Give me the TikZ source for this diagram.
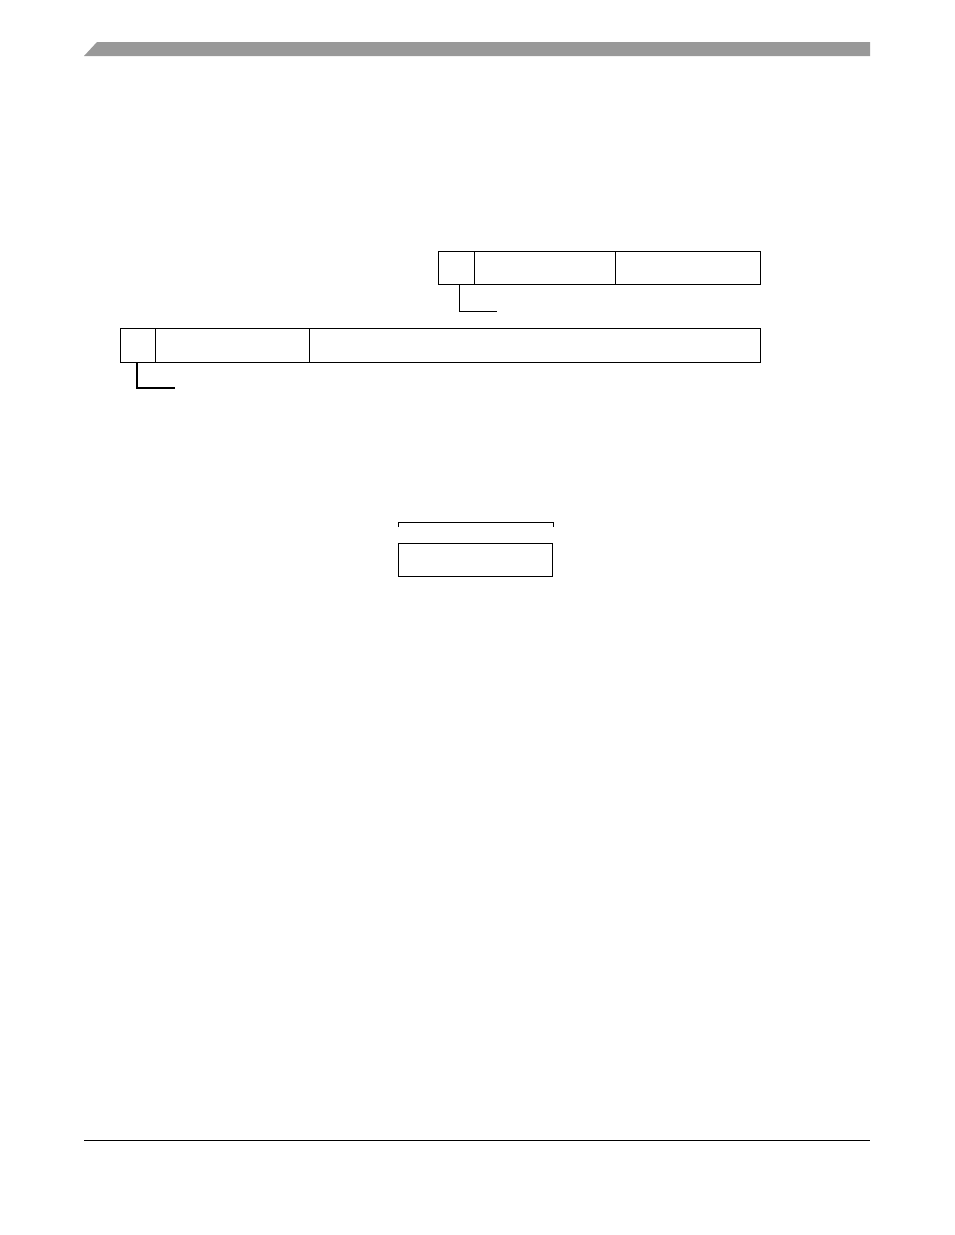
\documentclass[tikz,border=0pt]{standalone}
\usepackage{tikz}

\begin{document}
\begin{tikzpicture}[x=1pt, y=-1pt, cell/.style = {draw, line width=1.2pt, inner sep=0pt, minimum height=33pt, anchor=north west}, rule/.style = {line width=1pt}]
	\useasboundingbox (0,0) rectangle (954,1235);
	% page header and footer
	\fill[black!40] (84,56) -- (97,42) -- (870,42) -- (870,56) -- cycle;
	\draw[rule] (84,1140) -- (870,1140);
	% upper register
	\node[cell, minimum width=36pt] (a1) at (438,251) {};
	\node[cell, minimum width=141pt] (a2) at (474,251) {};
	\node[cell, minimum width=145pt] (a3) at (615,251) {};
	\coordinate (ka) at (497,311);
	\draw[rule] ([xshift=3pt]a1.south) |- (ka);
	% lower register
	\node[cell, minimum width=35pt, minimum height=34pt] (b1) at (120,328) {};
	\node[cell, minimum width=154pt, minimum height=34pt] (b2) at (155,328) {};
	\node[cell, minimum width=451pt, minimum height=34pt] (b3) at (309,328) {};
	\coordinate (kb) at (175,388);
	\draw[line width=1.8pt] ([xshift=-1.5pt]b1.south) |- (kb);
	% single field
	\node[cell, minimum width=154pt] (c1) at (398,543) {};
	\draw[rule] ([yshift=16pt]c1.north west) -- ([yshift=21pt]c1.north west)
		-- ([yshift=21pt]c1.north east) -- ([yshift=16pt]c1.north east);
\end{tikzpicture}
\end{document}
